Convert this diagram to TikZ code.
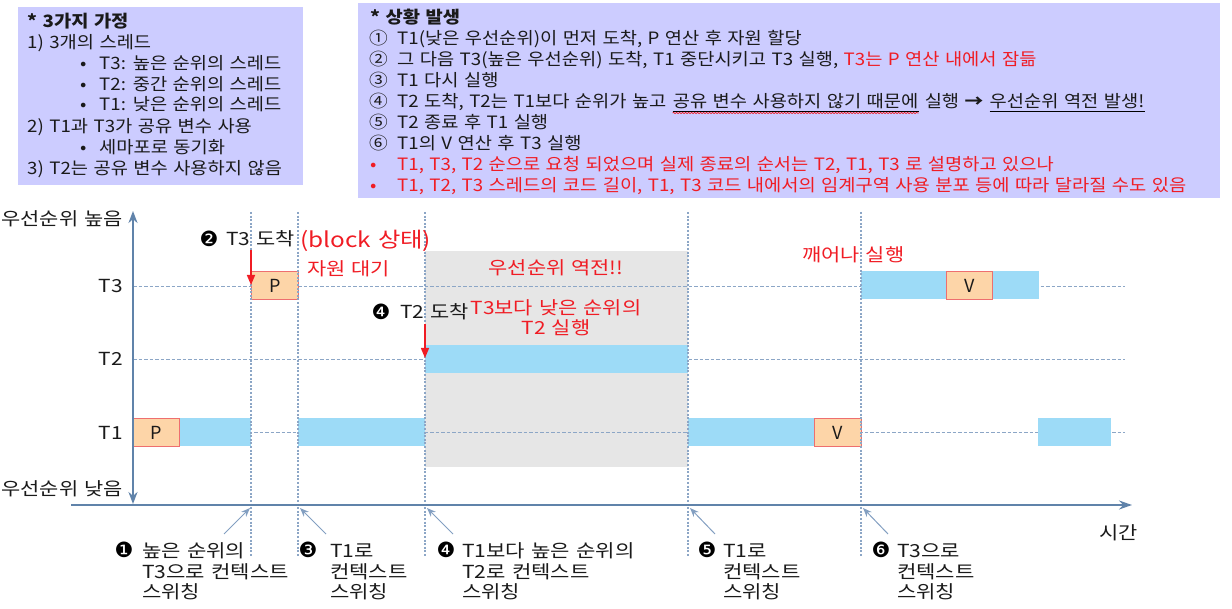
\documentclass[tikz,border=0pt]{standalone}
\usepackage{fontspec}
\setmainfont{Noto Sans CJK KR}
\newfontfamily\djv{DejaVu Sans}
\newfontfamily\boxfont[WordSpace=1.3]{Noto Sans CJK KR}
\newfontfamily\chartfont[WordSpace=1.3]{Noto Sans CJK KR}
\newfontfamily\botfont[WordSpace=1.3]{Noto Sans CJK KR}
\usetikzlibrary{arrows.meta,decorations.pathmorphing}
\definecolor{lav}{HTML}{CCCCFF}
\definecolor{axisc}{HTML}{6083AA}
\definecolor{gridc}{HTML}{8CA6C6}
\definecolor{barc}{HTML}{9DDBF7}
\definecolor{peach}{HTML}{FDD5A8}
\definecolor{pedge}{HTML}{EE6F6F}
\definecolor{grayz}{HTML}{E6E6E6}
\definecolor{redt}{HTML}{F01C24}
\definecolor{txt}{HTML}{1A1A1A}
\tikzset{
  bx/.style={anchor=base west, inner sep=0, text=txt, xscale=1.10, transform shape,
    font=\boxfont\fontsize{17}{20}\selectfont},
  bxb/.style={bx, font=\boxfont\bfseries\fontsize{17}{20}\selectfont},
  ch/.style={anchor=base west, inner sep=0, text=txt, xscale=1.16, transform shape,
    font=\chartfont\fontsize{18}{20}\selectfont},
  chr/.style={ch, text=redt},
  bot/.style={anchor=base west, inner sep=0, text=txt, xscale=1.17, transform shape,
    font=\botfont\fontsize{18}{20}\selectfont},
  num/.style={inner sep=0, text=black, font=\djv\fontsize{21}{21}\selectfont},
  bar/.style={fill=barc, draw=none},
  opbox/.style={fill=peach, draw=pedge, line width=1.2pt, inner sep=0, text=txt,
    font=\fontsize{18}{18}\selectfont},
  grid/.style={gridc, line width=0.9pt, dash pattern=on 3.5pt off 2pt},
  vgrid/.style={gridc, line width=1.2pt, dash pattern=on 2pt off 1.6pt},
  axisl/.style={axisc, line width=2.2pt},
  ptr/.style={gridc!80!axisc, line width=1pt, -{Stealth[length=9pt,width=7pt]}},
  redarr/.style={redt, line width=1.5pt, -{Triangle[length=10pt,width=8pt]}},
}
\begin{document}
\begin{tikzpicture}[x=1pt,y=-1pt]
\useasboundingbox (0,0) rectangle (1232,609);

% ---------- box 1 ----------
\node[fill=lav, inner sep=0, minimum width=285pt, minimum height=178pt, anchor=north west] (box1) at (18,7) {};
\node[bxb] (a0) at (27,28) {* 3가지 가정};
\node[bx] (a1) at (27,49) {1) 3개의 스레드};
\node[bx] (a2b) at (80,70) {•};
\node[bx] (a2) at (99,70) {T3: 높은 순위의 스레드};
\node[bx] (a3b) at (80,91) {•};
\node[bx] (a3) at (99,91) {T2: 중간 순위의 스레드};
\node[bx] (a4b) at (80,111) {•};
\node[bx] (a4) at (99,111) {T1: 낮은 순위의 스레드};
\node[bx] (a5) at (27,133) {2) T1과 T3가 공유 변수 사용};
\node[bx] (a6b) at (80,154) {•};
\node[bx] (a6) at (99,154) {세마포로 동기화};
\node[bx] (a7) at (27,175) {3) T2는 공유 변수 사용하지 않음};

% ---------- box 2 ----------
\node[fill=lav, inner sep=0, minimum width=862pt, minimum height=195pt, anchor=north west] (box2) at (358,3) {};
\node[bxb] (b0) at (370,24) {* 상황 발생};
\node[bx] (b1n) at (369,45) {①};
\node[bx] (b1) at (397,45) {T1(낮은 우선순위)이 먼저 도착, P 연산 후 자원 할당};
\node[bx] (b2n) at (369,66) {②};
\node[bx] (b2) at (397,66) {그 다음 T3(높은 우선순위) 도착, T1 중단시키고 T3 실행, \textcolor{redt}{T3는 P 연산 내에서 잠듦}};
\node[bx] (b3n) at (369,87) {③};
\node[bx] (b3) at (397,87) {T1 다시 실행};
\node[bx] (b4n) at (369,108) {④};
\node[bx] (b4a) at (397,108) {T2 도착, T2는 T1보다 순위가 높고};
\node[bx] (b4b) at ([xshift=6pt]b4a.base east) {공유 변수 사용하지 않기 때문에};
\node[bx] (b4c) at ([xshift=6pt]b4b.base east) {실행 \textbf{→}};
\node[bx] (b4d) at ([xshift=6pt]b4c.base east) {우선순위 역전 발생!};
\draw[black, line width=0.8pt] ([yshift=-3pt]b4b.base west) -- ([yshift=-3pt]b4b.base east);
\draw[redt, line width=0.7pt, decorate, decoration={snake, amplitude=0.6pt, segment length=3pt}]
  ([yshift=-5pt]b4b.base west) -- ([yshift=-5pt]b4b.base east);
\draw[black, line width=0.8pt] ([yshift=-3pt]b4d.base west) -- ([yshift=-3pt]b4d.base east);
\node[bx] (b5n) at (369,129) {⑤};
\node[bx] (b5) at (397,129) {T2 종료 후 T1 실행};
\node[bx] (b6n) at (369,150) {⑥};
\node[bx] (b6) at (397,150) {T1의 V 연산 후 T3 실행};
\node[bx, text=redt] (b7n) at (370,171) {•};
\node[bx, text=redt] (b7) at (397,171) {T1, T3, T2 순으로 요청 되었으며 실제 종료의 순서는 T2, T1, T3 로 설명하고 있으나};
\node[bx, text=redt] (b8n) at (370,192) {•};
\node[bx, text=redt] (b8) at (397,192) {T1, T2, T3 스레드의 코드 길이, T1, T3 코드 내에서의 임계구역 사용 분포 등에 따라 달라질 수도 있음};

% ---------- chart background ----------
\fill[grayz] (425,251) rectangle (688,467);
\foreach \yy in {286,359,432} \draw[grid] (133,\yy) -- (1125,\yy);

% bars
\fill[bar] (179,418) rectangle (251,446);
\fill[bar] (298,418) rectangle (425,446);
\fill[bar] (688,418) rectangle (814,446);
\fill[bar] (1038,418) rectangle (1111,446);
\fill[bar] (425,345) rectangle (688,373);
\fill[bar] (861,271) rectangle (1039,299);
\node[opbox, minimum width=46pt, minimum height=28pt, anchor=north west] (p1) at (133,418) {P};
\node[opbox, minimum width=47pt, minimum height=28pt, anchor=north west] (p3) at (251,271) {P};
\node[opbox, minimum width=47pt, minimum height=28pt, anchor=north west] (v1) at (814,418) {V};
\node[opbox, minimum width=46pt, minimum height=28pt, anchor=north west] (v3) at (946,271) {V};

% vertical dotted lines
\foreach \xx in {251,298,425,688,861} \draw[vgrid] (\xx,212) -- (\xx,556);

% axes
\coordinate (yb) at (133,504);
\coordinate (yt) at (133,211);
\coordinate (xl) at (71,505);
\coordinate (xr) at (1132,505);
\draw[axisl, {Stealth[length=12pt,width=9pt]}-{Stealth[length=12pt,width=9pt]}] (yb) -- (yt);
\draw[axisl, -{Stealth[length=13pt,width=9pt]}] (xl) -- (xr);

% axis labels
\node[ch, anchor=base east] (hi) at (123,226) {우선순위 높음};
\node[ch, anchor=base east] (lo) at (123,496) {우선순위 낮음};
\node[ch, anchor=base east] (lt3) at (123,292.5) {T3};
\node[ch, anchor=base east] (lt2) at (123,365.5) {T2};
\node[ch, anchor=base east] (lt1) at (123,439) {T1};
\node[ch, anchor=base east] (time) at (1138,539) {시간};

% event annotations
\node[num] (n2) at (209,239) {❷};
\node[ch] (t3arr) at (226,246) {T3 도착};
\node[ch, text=redt, font=\chartfont\fontsize{21}{21}\selectfont, xscale=1] (blk) at (300,247.5) {(block 상태)};
\node[chr] (wait) at (307,276) {자원 대기};
\node[chr, anchor=base] (inv) at (556,275) {우선순위 역전!!};
\node[num] (n4) at (381,312) {❹};
\node[ch] (t2arr) at (400,319) {T2 도착};
\node[chr, anchor=base] (low1) at (556,315) {T3보다 낮은 순위의};
\node[chr, anchor=base] (low2) at (556,335) {T2 실행};
\node[chr] (wake) at (802,262) {깨어나 실행};

\coordinate (r1s) at (251,250);
\coordinate (r1e) at (251,285);
\coordinate (r2s) at (425,324);
\coordinate (r2e) at (425,358);
\draw[redarr] (r1s) -- (r1e);
\draw[redarr] (r2s) -- (r2e);

% bottom labels
\node[num] (c1) at (124,550) {❶};
\node[bot] (c1a) at (142,557) {높은 순위의};
\node[bot] (c1b) at (142,578) {T3으로 컨텍스트};
\node[bot] (c1c) at (142,598) {스위칭};
\node[num] (c3) at (308,550) {❸};
\node[bot] (c3a) at (330,557) {T1로};
\node[bot] (c3b) at (330,578) {컨텍스트};
\node[bot] (c3c) at (330,598) {스위칭};
\node[num] (c4) at (446,550) {❹};
\node[bot] (c4a) at (462,557) {T1보다 높은 순위의};
\node[bot] (c4b) at (462,578) {T2로 컨텍스트};
\node[bot] (c4c) at (462,598) {스위칭};
\node[num] (c5) at (707,550) {❺};
\node[bot] (c5a) at (723,557) {T1로};
\node[bot] (c5b) at (723,578) {컨텍스트};
\node[bot] (c5c) at (723,598) {스위칭};
\node[num] (c6) at (881,550) {❻};
\node[bot] (c6a) at (897,557) {T3으로};
\node[bot] (c6b) at (897,578) {컨텍스트};
\node[bot] (c6c) at (897,598) {스위칭};

\coordinate (k1s) at (224,534); \coordinate (k1e) at (250,508);
\coordinate (k3s) at (326,534); \coordinate (k3e) at (300,508);
\coordinate (k4s) at (453,534); \coordinate (k4e) at (427,508);
\coordinate (k5s) at (715,534); \coordinate (k5e) at (690,508);
\coordinate (k6s) at (888,534); \coordinate (k6e) at (863,508);
\foreach \k in {1,3,4,5,6} \draw[ptr] (k\k s) -- (k\k e);
\end{tikzpicture}
\end{document}
